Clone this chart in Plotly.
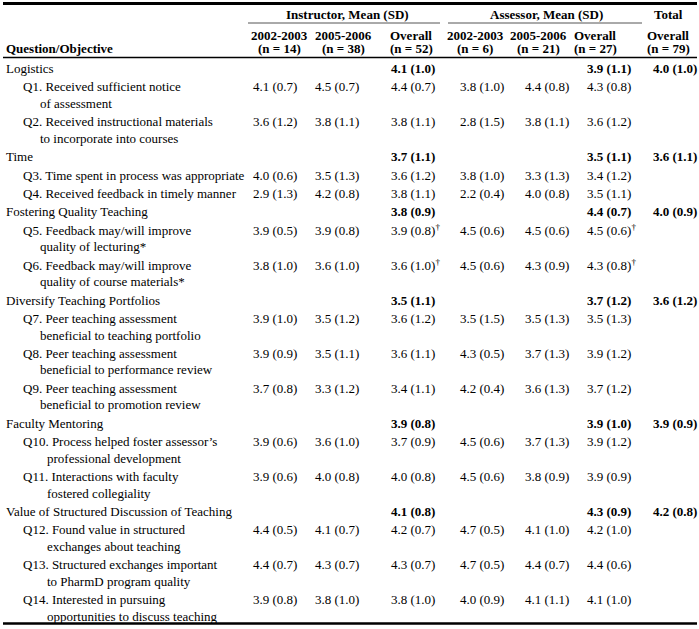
import plotly.graph_objects as go

# ---------------- data ----------------
categories = ["Logistics", "Time", "Fostering Quality Teaching",
              "Diversify Teaching Portfolios", "Faculty Mentoring",
              "Value of Structured Discussion of Teaching"]
cat_question_ids = [[1, 2], [3, 4], [5, 6], [7, 8, 9], [10, 11], [12, 13, 14]]
cat_inst_mean = [4.1, 3.7, 3.8, 3.5, 3.9, 4.1]
cat_inst_sd = [1.0, 1.1, 0.9, 1.1, 0.8, 0.8]
cat_ass_mean = [3.9, 3.5, 4.4, 3.7, 3.9, 4.3]
cat_ass_sd = [1.1, 1.1, 0.7, 1.2, 1.0, 0.9]
cat_total_mean = [4.0, 3.6, 4.0, 3.6, 3.9, 4.2]
cat_total_sd = [1.0, 1.1, 0.9, 1.2, 0.9, 0.8]

question_text = [
    ["Received sufficient notice", "of assessment"],
    ["Received instructional materials", "to incorporate into courses"],
    ["Time spent in process was appropriate"],
    ["Received feedback in timely manner"],
    ["Feedback may/will improve", "quality of lecturing*"],
    ["Feedback may/will improve", "quality of course materials*"],
    ["Peer teaching assessment", "beneficial to teaching portfolio"],
    ["Peer teaching assessment", "beneficial to performance review"],
    ["Peer teaching assessment", "beneficial to promotion review"],
    ["Process helped foster assessor\u2019s", "professional development"],
    ["Interactions with faculty", "fostered collegiality"],
    ["Found value in structured", "exchanges about teaching"],
    ["Structured exchanges important", "to PharmD program quality"],
    ["Interested in pursuing", "opportunities to discuss teaching"],
]
inst_0203_mean = [4.1, 3.6, 4.0, 2.9, 3.9, 3.8, 3.9, 3.9, 3.7, 3.9, 3.9, 4.4, 4.4, 3.9]
inst_0203_sd   = [0.7, 1.2, 0.6, 1.3, 0.5, 1.0, 1.0, 0.9, 0.8, 0.6, 0.6, 0.5, 0.7, 0.8]
inst_0506_mean = [4.5, 3.8, 3.5, 4.2, 3.9, 3.6, 3.5, 3.5, 3.3, 3.6, 4.0, 4.1, 4.3, 3.8]
inst_0506_sd   = [0.7, 1.1, 1.3, 0.8, 0.8, 1.0, 1.2, 1.1, 1.2, 1.0, 0.8, 0.7, 0.7, 1.0]
inst_all_mean  = [4.4, 3.8, 3.6, 3.8, 3.9, 3.6, 3.6, 3.6, 3.4, 3.7, 4.0, 4.2, 4.3, 3.8]
inst_all_sd    = [0.7, 1.1, 1.2, 1.1, 0.8, 1.0, 1.2, 1.1, 1.1, 0.9, 0.8, 0.7, 0.7, 1.0]
ass_0203_mean  = [3.8, 2.8, 3.8, 2.2, 4.5, 4.5, 3.5, 4.3, 4.2, 4.5, 4.5, 4.7, 4.7, 4.0]
ass_0203_sd    = [1.0, 1.5, 1.0, 0.4, 0.6, 0.6, 1.5, 0.5, 0.4, 0.6, 0.6, 0.5, 0.5, 0.9]
ass_0506_mean  = [4.4, 3.8, 3.3, 4.0, 4.5, 4.3, 3.5, 3.7, 3.6, 3.7, 3.8, 4.1, 4.4, 4.1]
ass_0506_sd    = [0.8, 1.1, 1.3, 0.8, 0.6, 0.9, 1.3, 1.3, 1.3, 1.3, 0.9, 1.0, 0.7, 1.1]
ass_all_mean   = [4.3, 3.6, 3.4, 3.5, 4.5, 4.3, 3.5, 3.9, 3.7, 3.9, 3.9, 4.2, 4.4, 4.1]
ass_all_sd     = [0.8, 1.2, 1.2, 1.1, 0.6, 0.8, 1.3, 1.2, 1.2, 1.2, 0.9, 1.0, 0.6, 1.0]
dagger_questions = [5, 6]

col_years = ["2002-2003", "2005-2006", "Overall", "2002-2003", "2005-2006", "Overall", "Overall"]
col_n = [14, 38, 52, 6, 21, 27, 79]
group_titles = ["Instructor, Mean (SD)", "Assessor, Mean (SD)"]

# ---------------- layout constants ----------------
W, H = 699, 629
FONT = "Liberation Serif, Times New Roman, serif"
FS = 13.0
col_left = [251, 313, 389, 458, 523, 585, 651]
col_center = [279, 343, 411, 475, 538, 595, 668]
ROW1 = 68.5
SINGLE = 18.4
LINE2 = 16.5
Q_X = 21
CAT_X = 4

ann = []
shapes = []

def text(x, y, s, bold=False, anchor="left"):
    if bold:
        s = "<b>" + s + "</b>"
    ann.append(dict(x=x, y=y, xref="x", yref="y", text=s, showarrow=False,
                    xanchor=anchor, yanchor="middle",
                    font=dict(family=FONT, size=FS, color="black")))

def fmt(m, sd):
    return f"{m:.1f} ({sd:.1f})"

def hline(x0, x1, y, w, color="black"):
    shapes.append(dict(type="line", xref="x", yref="y", x0=x0, x1=x1, y0=y, y1=y,
                       line=dict(color=color, width=w)))

# header
hline(3, 697, 3.5, 3)
text(347, 14, group_titles[0], bold=True, anchor="center")
text(546, 14, group_titles[1], bold=True, anchor="center")
text(668, 14, "Total", bold=True, anchor="center")
hline(248, 440, 23, 1, "#555")
hline(448, 642, 23, 1, "#555")
for i in range(7):
    text(col_center[i], 35, col_years[i], bold=True, anchor="center")
    text(col_center[i], 48.5, f"(n = {col_n[i]})", bold=True, anchor="center")
text(CAT_X, 48.5, "Question/Objective", bold=True)
hline(3, 697, 57.5, 1.5)

# body
y = ROW1
for c, cat in enumerate(categories):
    text(CAT_X, y, cat)
    text(col_left[2], y, fmt(cat_inst_mean[c], cat_inst_sd[c]), bold=True)
    text(col_left[5], y, fmt(cat_ass_mean[c], cat_ass_sd[c]), bold=True)
    text(col_left[6], y, fmt(cat_total_mean[c], cat_total_sd[c]), bold=True)
    y += SINGLE
    for q in cat_question_ids[c]:
        k = q - 1
        lines = question_text[k]
        text(Q_X, y, f"Q{q}. {lines[0]}")
        if len(lines) > 1:
            indent = 17 if q < 10 else 24
            text(Q_X + indent, y + LINE2, lines[1])
        dag = "<sup>\u2020</sup>" if q in dagger_questions else ""
        vals = [fmt(inst_0203_mean[k], inst_0203_sd[k]),
                fmt(inst_0506_mean[k], inst_0506_sd[k]),
                fmt(inst_all_mean[k], inst_all_sd[k]) + dag,
                fmt(ass_0203_mean[k], ass_0203_sd[k]),
                fmt(ass_0506_mean[k], ass_0506_sd[k]),
                fmt(ass_all_mean[k], ass_all_sd[k]) + dag]
        for j, v in enumerate(vals):
            text(col_left[j], y, v)
        y += SINGLE + (LINE2 if len(lines) > 1 else 0)

hline(3, 697, 623.5, 2.5)

fig = go.Figure()
fig.update_layout(
    width=W, height=H, margin=dict(l=0, r=0, t=0, b=0),
    paper_bgcolor="white", plot_bgcolor="white",
    xaxis=dict(range=[0, W], visible=False, fixedrange=True),
    yaxis=dict(range=[H, 0], visible=False, fixedrange=True),
    annotations=ann, shapes=shapes, showlegend=False,
)
# remove the page's default body margin so the figure sits at the window's corner
fig.write_html("out.html",
               config={"displayModeBar": False, "staticPlot": True},
               post_script="document.body.style.margin='0';document.body.style.overflow='hidden';")
